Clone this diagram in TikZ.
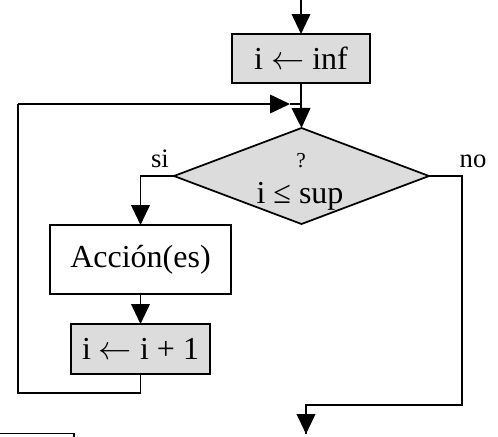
\documentclass[tikz,border=0pt]{standalone}
\usepackage{fontspec}
\setmainfont{Liberation Serif}
\usetikzlibrary{shapes.geometric,arrows.meta}
\definecolor{boxgray}{HTML}{DCDCDC}
\newcommand{\myarrow}{\ensuremath{\leftarrow}}
\begin{document}
\begin{tikzpicture}[x=0.75pt,y=-0.75pt,
  line width=1.3pt,
  every node/.style={inner sep=0pt, outer sep=0pt},
  big/.style={font=\fontsize{24}{28}\selectfont},
  graybox/.style={draw, fill=boxgray, big},
  whitebox/.style={draw, fill=white, big},
  flow/.style={-{Triangle[length=15pt,width=14pt]}},
  lbl/.style={font=\fontsize{20}{24}\selectfont, anchor=base}]
\useasboundingbox (0,0) rectangle (498,436);
% nodes
\node[graybox, minimum width=103.5pt, minimum height=36.75pt] (inf) at (301,58.5) {i \myarrow\ inf};
\node[diamond, draw, fill=boxgray, minimum width=191.25pt, minimum height=72pt, aspect=2.66] (d) at (301.5,176) {};
\node[font=\fontsize{16}{18}\selectfont, anchor=base] (q) at (301,167) {?};
\node[big, anchor=base] (cond) at (300,203) {i ≤ sup};
\node[lbl] (si) at (160,167) {si};
\node[lbl] (no) at (473,167) {no};
\node[whitebox, minimum width=135.75pt, minimum height=51.75pt] (act) at (140.5,259.5) {Acción(es)};
\node[graybox, minimum width=104.25pt, minimum height=37.5pt] (inc) at (140.5,349) {i \myarrow\ i + 1};
% coordinates
\coordinate (start) at (301,0);
\coordinate (merge) at (301,104);
\coordinate (lt) at (18,104);
\coordinate (lb) at (18,393);
\coordinate (ltip) at (290,104);
\coordinate (rb) at (462,405);
\coordinate (endp) at (306,434);
% connectors
\draw[flow] (start) -- (inf.north);
\draw (inf.south) -- (merge);
\draw[flow] (merge) -- (d.north);
\draw[flow] (d.west) -| (act.north);
\draw[flow] (act.south) -- (inc.north);
\draw (inc.south) |- (lb) -- (lt);
\draw[flow] (lt) -- (ltip);
\draw (ltip) -- (merge);
\draw (d.east) -| (rb) -| (endp);
\draw[flow] (endp |- rb) -- (endp);
% cut-off frame at bottom left
\coordinate (fa) at (-2,433.5);
\coordinate (fb) at (74,433.5);
\coordinate (fc) at (74,438);
\draw[line width=1pt] (fa) -- (fb) -- (fc);
\end{tikzpicture}
\end{document}
